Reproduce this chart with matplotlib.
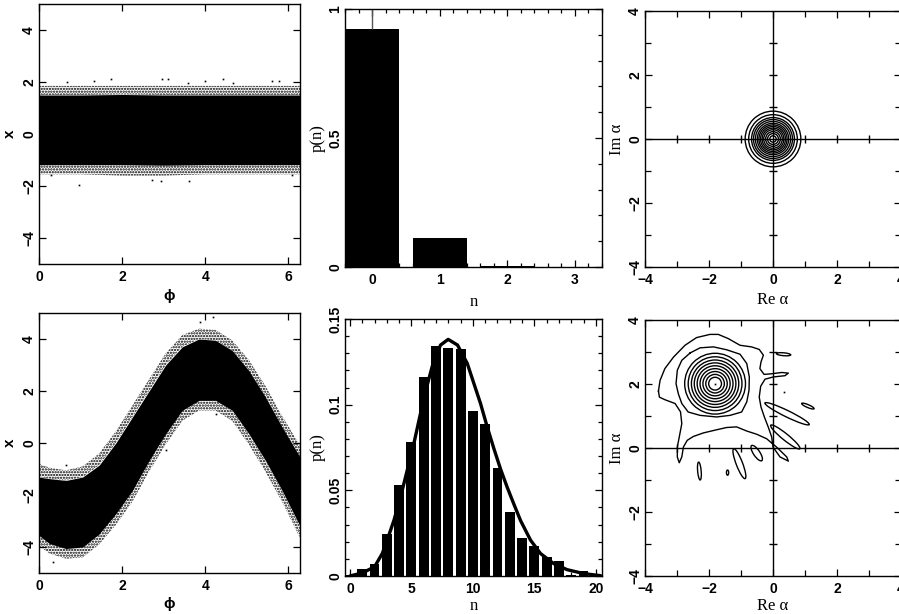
import numpy as np
import matplotlib
matplotlib.use("Agg")
import matplotlib.pyplot as plt
from matplotlib.patches import Circle, Ellipse
from matplotlib.ticker import MultipleLocator, FuncFormatter, NullLocator

# ---------------- data ----------------
# vacuum quadrature samples: dense core and sparse fringe of the band
vac_phi = [0.0, 1.0, 2.0, 3.0, 4.0, 5.0, 2 * np.pi]
vac_core_hi = [1.50, 1.50, 1.52, 1.50, 1.50, 1.50, 1.50]
vac_core_lo = [-1.18, -1.18, -1.18, -1.20, -1.18, -1.18, -1.18]
vac_fringe_hi = [1.85, 1.85, 1.85, 1.85, 1.85, 1.85, 1.85]
vac_fringe_lo = [-1.55, -1.55, -1.60, -1.60, -1.55, -1.55, -1.55]
vac_stray_phi = [0.96, 1.74, 2.96, 3.11, 4.42, 5.60, 5.77, 1.33, 0.68, 3.99,
                 2.71, 2.93, 3.61, 0.30, 6.09, 4.67, 3.59]
vac_stray_x = [-1.97, 2.13, 2.13, 2.13, 2.13, 2.05, 2.03, 2.03, 1.99, 2.03,
               -1.76, -1.82, -1.82, -1.56, -1.56, 1.96, 1.96]

# coherent-state quadrature samples
coh_phi = [0.0, 0.25, 0.65, 1.05, 1.45, 1.85, 2.25, 2.65, 3.05, 3.45,
           3.85, 4.25, 4.65, 5.05, 5.45, 5.85, 2 * np.pi]
coh_core_hi = [-1.31, -1.37, -1.44, -1.31, -0.85, 0.00, 1.00, 2.00, 3.00, 3.70,
               4.00, 3.95, 3.56, 2.79, 1.77, 0.62, -0.54]
coh_core_lo = [-3.55, -3.87, -4.06, -4.00, -3.49, -2.72, -1.82, -0.67, 0.36, 1.26,
               1.64, 1.64, 1.26, 0.36, -0.67, -1.82, -3.20]
coh_fringe_hi = [-0.80, -0.95, -1.05, -0.90, -0.40, 0.45, 1.45, 2.45, 3.45, 4.15,
                 4.40, 4.35, 3.95, 3.20, 2.20, 1.05, -0.10]
coh_fringe_lo = [-3.95, -4.25, -4.45, -4.40, -3.90, -3.15, -2.25, -1.10, -0.05, 0.85,
                 1.25, 1.25, 0.85, -0.05, -1.10, -2.25, -3.65]
coh_stray_phi = [0.34, 3.87, 4.19, 2.99, 3.05, 4.27, 0.66, 2.18]
coh_stray_x = [-4.58, 4.65, 4.85, 0.38, -0.28, 1.13, -0.86, 0.36]

# photon-number distributions
vac_n = [0, 1, 2, 3]
vac_p = [0.922, 0.111, 0.002, 0.001]
vac_err = [0.10, 0.0, 0.0, 0.0]

coh_n = list(range(21))
coh_p = [0.0005, 0.0043, 0.0072, 0.0247, 0.0530, 0.0785, 0.1160, 0.1340, 0.1330,
         0.1327, 0.0962, 0.0890, 0.0633, 0.0372, 0.0220, 0.0177, 0.0109, 0.0090,
         0.0008, 0.0029, 0.0014]
fit_n = [0.0, 1.0, 2.0, 2.63, 3.03, 3.58, 4.12, 4.66, 5.20, 5.74, 6.29, 6.83, 7.37,
         7.99, 8.75, 9.54, 10.08, 10.62, 11.17, 11.71, 12.25, 12.79, 13.33, 13.88,
         14.69, 15.5, 16.58, 17.66, 19.02, 20.38]
fit_p = [0.0, 0.0018, 0.0053, 0.0131, 0.0209, 0.0325, 0.0462, 0.0617, 0.0773,
         0.0949, 0.1115, 0.1260, 0.1348, 0.1381, 0.1348, 0.1241, 0.1124, 0.1007,
         0.0869, 0.0743, 0.0624, 0.0518, 0.0420, 0.0323, 0.0209, 0.0131, 0.0072,
         0.0037, 0.0014, 0.0002]

# phase-space contours
vac_center = (0.0, 0.0)
vac_radii = [0.87, 0.76, 0.67, 0.61, 0.55, 0.49, 0.44, 0.39, 0.34, 0.29, 0.23, 0.17, 0.10]

coh_center = (-1.81, 2.01)
coh_radii = [0.20, 0.29, 0.38, 0.47, 0.56, 0.65, 0.74, 0.84, 0.95]

contour_a_re = [-2.59, -2.28, -1.86, -1.45, -1.03, -0.82, -0.74, -0.75, -0.82, -0.98,
                -1.34, -1.76, -2.28, -2.65, -2.85, -2.96, -3.03, -2.99, -2.85]
contour_a_im = [2.97, 3.13, 3.16, 3.07, 2.93, 2.64, 2.22, 1.80, 1.44, 1.125,
                1.02, 0.97, 1.02, 1.125, 1.39, 1.70, 2.01, 2.43, 2.74]

contour_b_re = [-3.58, -3.53, -3.38, -3.11, -2.75, -2.39, -1.97, -1.71, -1.40, -1.03,
                -0.67, -0.43, -0.30, -0.375, -0.41, -0.28, -0.04, 0.27, 0.48, 0.375,
                0.01, -0.25, -0.385, -0.43, -0.375, -0.27, -0.15, -0.04, 0.00, 0.22,
                0.48, 0.43, 0.11, -0.20, -0.51, -0.82, -1.14, -1.45, -1.76, -2.18,
                -2.49, -2.68, -2.80, -2.85, -2.93, -2.99, -2.99, -2.93, -2.85, -2.89,
                -3.06, -3.38, -3.55]
contour_b_im = [1.78, 2.11, 2.48, 2.84, 3.21, 3.45, 3.55, 3.55, 3.42, 3.21,
                3.16, 3.08, 2.90, 2.69, 2.48, 2.30, 2.32, 2.36, 2.34, 2.26,
                2.22, 2.15, 1.93, 1.59, 1.28, 0.97, 0.66, 0.34, 0.03, -0.28,
                -0.41, -0.28, 0.03, 0.29, 0.43, 0.53, 0.66, 0.64, 0.57, 0.47,
                0.36, 0.24, 0.03, -0.28, -0.46, -0.28, 0.03, 0.34, 0.76, 1.13,
                1.39, 1.51, 1.59]

# isolated islands: centre re, centre im, length, width, angle (deg)
island_re = [0.33, 1.09, 0.44, 0.385, -0.51, -1.05, -1.42, -2.30]
island_im = [2.93, 1.31, 1.07, 0.345, -0.16, -0.49, -0.77, -0.72]
island_len = [0.45, 0.42, 1.54, 1.17, 0.57, 1.00, 0.16, 0.56]
island_wid = [0.09, 0.09, 0.20, 0.20, 0.20, 0.20, 0.07, 0.11]
island_ang = [-5, -23, -26, -39, -56, -69, 90, 95]
speck_re = [0.35, -1.81]
speck_im = [1.75, 2.01]

axis_marks = [-3, -2, -1, 1, 2, 3]

# ---------------- styling ----------------
W, H = 899, 614
fig = plt.figure(figsize=(W / 100, H / 100), dpi=100)

tick_font = dict(family=['Liberation Sans', 'DejaVu Sans'], weight='bold', size=10)
sans_label = dict(family=['Liberation Sans', 'DejaVu Sans'], weight='bold', size=11)
serif_label = dict(family=['Liberation Serif', 'DejaVu Serif'], size=12)


def box(l, r, t, b):
    return [l / W, 1 - b / H, (r - l) / W, (b - t) / H]


def fmt_g(v, pos):
    return ('%g' % v).replace('-', '\u2212')


def style(ax, xmaj, ymaj, xmin=None, ymin=None):
    ax.xaxis.set_major_locator(MultipleLocator(xmaj))
    ax.yaxis.set_major_locator(MultipleLocator(ymaj))
    ax.xaxis.set_minor_locator(MultipleLocator(xmin) if xmin else NullLocator())
    ax.yaxis.set_minor_locator(MultipleLocator(ymin) if ymin else NullLocator())
    ax.xaxis.set_major_formatter(FuncFormatter(fmt_g))
    ax.yaxis.set_major_formatter(FuncFormatter(fmt_g))
    ax.tick_params(which='both', direction='in', top=True, right=True,
                   width=0.9, colors='k')
    ax.tick_params(which='major', length=5)
    ax.tick_params(which='minor', length=3)
    ax.tick_params(axis='x', pad=4)
    ax.tick_params(axis='y', pad=2, labelrotation=90)
    for lab in ax.get_xticklabels() + ax.get_yticklabels():
        lab.set_fontproperties(matplotlib.font_manager.FontProperties(**tick_font))
    for lab in ax.get_yticklabels():
        lab.set_va('center')
    for s in ax.spines.values():
        s.set_linewidth(1.0)


plt.rcParams['hatch.linewidth'] = 1.1
plt.rcParams['hatch.color'] = 'k'


def band(ax, phi, core_lo, core_hi, fr_lo, fr_hi, sphi, sx):
    ax.fill_between(phi, core_hi, fr_hi, facecolor='none', edgecolor='k',
                    hatch='......', linewidth=0)
    ax.fill_between(phi, fr_lo, core_lo, facecolor='none', edgecolor='k',
                    hatch='......', linewidth=0)
    ax.fill_between(phi, core_lo, core_hi, color='k', linewidth=0)
    ax.plot(sphi, sx, ls='none', marker='s', ms=1.2, color='k', mew=0)


phi_label = '\u03d5'

# ---------------- top left: vacuum quadratures ----------------
ax1 = fig.add_axes(box(39, 300, 4, 264))
band(ax1, vac_phi, vac_core_lo, vac_core_hi, vac_fringe_lo, vac_fringe_hi,
     vac_stray_phi, vac_stray_x)
ax1.set_xlim(0, 2 * np.pi)
ax1.set_ylim(-5, 5)
style(ax1, 2, 2)
ax1.set_xlabel(phi_label, labelpad=4, **sans_label)
ax1.set_ylabel('x', labelpad=4, **sans_label)

# ---------------- bottom left: coherent quadratures ----------------
ax4 = fig.add_axes(box(39, 300, 313, 573))
band(ax4, coh_phi, coh_core_lo, coh_core_hi, coh_fringe_lo, coh_fringe_hi,
     coh_stray_phi, coh_stray_x)
ax4.set_xlim(0, 2 * np.pi)
ax4.set_ylim(-5, 5)
style(ax4, 2, 2)
ax4.set_xlabel(phi_label, labelpad=3, **sans_label)
ax4.set_ylabel('x', labelpad=4, **sans_label)

# ---------------- top middle: vacuum photon statistics ----------------
ax2 = fig.add_axes(box(345, 602, 9, 267))
ax2.bar(vac_n, vac_p, width=0.8, color='k', linewidth=0)
ax2.errorbar(vac_n[:1], vac_p[:1], yerr=[[0], vac_err[:1]], fmt='none',
             ecolor='#555555', elinewidth=1.0, capsize=0)
ax2.set_xlim(-0.4, 3.4)
ax2.set_ylim(0, 1)
style(ax2, 1, 0.5, 0.2, 0.1)
ax2.set_xlabel('n', labelpad=5, **serif_label)
ax2.set_ylabel('p(n)', labelpad=2, **serif_label)

# ---------------- bottom middle: coherent photon statistics ----------------
ax5 = fig.add_axes(box(345, 602, 319, 576))
ax5.bar(coh_n, coh_p, width=0.8, color='k', linewidth=0)
ax5.plot(fit_n, fit_p, color='k', lw=2.4, solid_capstyle='round',
         solid_joinstyle='round')
ax5.set_xlim(-0.4, 20.5)
ax5.set_ylim(0, 0.15)
style(ax5, 5, 0.05, 1, 0.01)
ax5.set_xlabel('n', labelpad=2, **serif_label)
ax5.set_ylabel('p(n)', labelpad=2, **serif_label)


def phase_axes(ax, xpad):
    ax.axhline(0, color='k', lw=1.0)
    ax.axvline(0, color='k', lw=1.0)
    ax.plot(axis_marks, [0] * len(axis_marks), ls='none', marker='|',
            ms=6, mew=1.0, color='k')
    ax.plot([0] * len(axis_marks), axis_marks, ls='none', marker='_',
            ms=6, mew=1.0, color='k')
    ax.set_xlim(-4, 4)
    ax.set_ylim(-4, 4)
    style(ax, 2, 2, 1, 1)
    ax.tick_params(which='minor', length=4)
    ax.set_xlabel('Re \u03b1', labelpad=xpad, **serif_label)
    ax.set_ylabel('Im \u03b1', labelpad=2, **serif_label)


# ---------------- top right: vacuum phase-space contours ----------------
ax3 = fig.add_axes(box(645, 901, 11, 267))
phase_axes(ax3, 4)
for r in vac_radii:
    ax3.add_patch(Circle(vac_center, r, fill=False, ec='k', lw=1.0))

# ---------------- bottom right: coherent phase-space contours ----------------
ax6 = fig.add_axes(box(645, 901, 320, 576))
phase_axes(ax6, 2)
for r in coh_radii:
    ax6.add_patch(Circle(coh_center, r, fill=False, ec='k', lw=1.0))
ax6.plot(contour_a_re + contour_a_re[:1], contour_a_im + contour_a_im[:1],
         color='k', lw=1.0)
ax6.plot(contour_b_re + contour_b_re[:1], contour_b_im + contour_b_im[:1],
         color='k', lw=1.0)
for cx, cy, ln, wd, an in zip(island_re, island_im, island_len, island_wid, island_ang):
    ax6.add_patch(Ellipse((cx, cy), ln, wd, angle=an, fill=False, ec='k', lw=1.0))
ax6.plot(speck_re, speck_im, ls='none', marker='s', ms=1.2, color='k', mew=0)

fig.savefig('out.png', dpi=100)
